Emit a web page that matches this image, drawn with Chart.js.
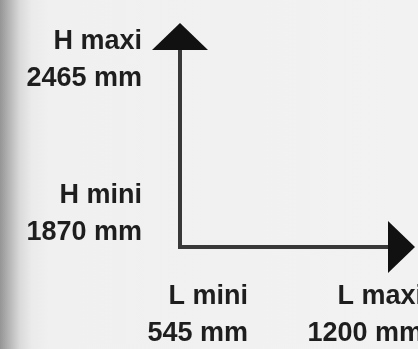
<!DOCTYPE html>
<html>
<head>
<meta charset="utf-8">
<script src="https://cdn.jsdelivr.net/npm/chart.js@4"></script>
<style>
    html, body { margin: 0; padding: 0; }
    body {
        width: 418px;
        height: 349px;
        overflow: hidden;
        background: linear-gradient(to right, #959595 0px, #b8b8b8 10px, #dadada 20px, #ebebeb 32px, #f0f0f0 50px, #f2f2f2 100%);
    }
    #wrap { position: relative; width: 418px; height: 349px; }
</style>
</head>
<body>
<div id="wrap"><canvas id="chart"></canvas></div>
<script>
    // dimensions of the machine (mm)
    const lengthNames = ["L mini", "L maxi"];
    const lengthValues = [545, 1200];
    const heightNames = ["H mini", "H maxi"];
    const heightValues = [1870, 2465];

    const FONT = { family: "'Liberation Sans', Arial, sans-serif", size: 27, weight: "bold", lineHeight: 1.37 };
    const INK = "#1e1e1e";
    const AXIS = "#383838";

    // arrow heads on the end of both axis borders
    const arrowHeads = {
        id: "arrowHeads",
        afterDraw(chart) {
            const { ctx, chartArea: a } = chart;
            ctx.save();
            ctx.fillStyle = "#111";
            ctx.beginPath();
            ctx.moveTo(a.left - 28, a.top);
            ctx.lineTo(a.left + 28, a.top);
            ctx.lineTo(a.left, a.top - 27);
            ctx.closePath();
            ctx.fill();
            ctx.beginPath();
            ctx.moveTo(a.right, a.bottom - 26);
            ctx.lineTo(a.right, a.bottom + 26);
            ctx.lineTo(a.right + 27, a.bottom);
            ctx.closePath();
            ctx.fill();
            ctx.restore();
        }
    };

    new Chart(document.getElementById("chart"), {
        type: "scatter",
        data: { datasets: [{ data: [], showLine: false }] },
        plugins: [arrowHeads],
        options: {
            responsive: true,
            maintainAspectRatio: false,
            animation: false,
            events: [],
            layout: { padding: { left: 0, right: 30, top: 50, bottom: 0 } },
            plugins: { legend: { display: false }, tooltip: { enabled: false } },
            scales: {
                x: {
                    type: "linear",
                    min: 459,
                    max: 1237,
                    afterFit: s => { s.height = 102; s.paddingLeft = 0; s.paddingRight = 0; },
                    afterBuildTicks: s => { s.ticks = lengthValues.map(v => ({ value: v })); },
                    grid: { display: false, drawTicks: false },
                    border: { display: true, color: AXIS, width: 4 },
                    ticks: {
                        autoSkip: false,
                        maxRotation: 0,
                        align: "end",
                        labelOffset: 45,
                        padding: 31,
                        color: INK,
                        font: FONT,
                        callback: (v, i) => [lengthNames[i], lengthValues[i] + " mm"]
                    }
                },
                y: {
                    type: "linear",
                    min: 1742,
                    max: 2504,
                    afterFit: s => { s.width = 180; s.paddingTop = 0; s.paddingBottom = 0; },
                    afterBuildTicks: s => { s.ticks = heightValues.map(v => ({ value: v })); },
                    grid: { display: false, drawTicks: false },
                    border: { display: true, color: AXIS, width: 4 },
                    ticks: {
                        autoSkip: false,
                        padding: 38,
                        color: INK,
                        font: FONT,
                        callback: (v, i) => [heightNames[i], heightValues[i] + " mm"]
                    }
                }
            }
        }
    });
</script>
</body>
</html>
